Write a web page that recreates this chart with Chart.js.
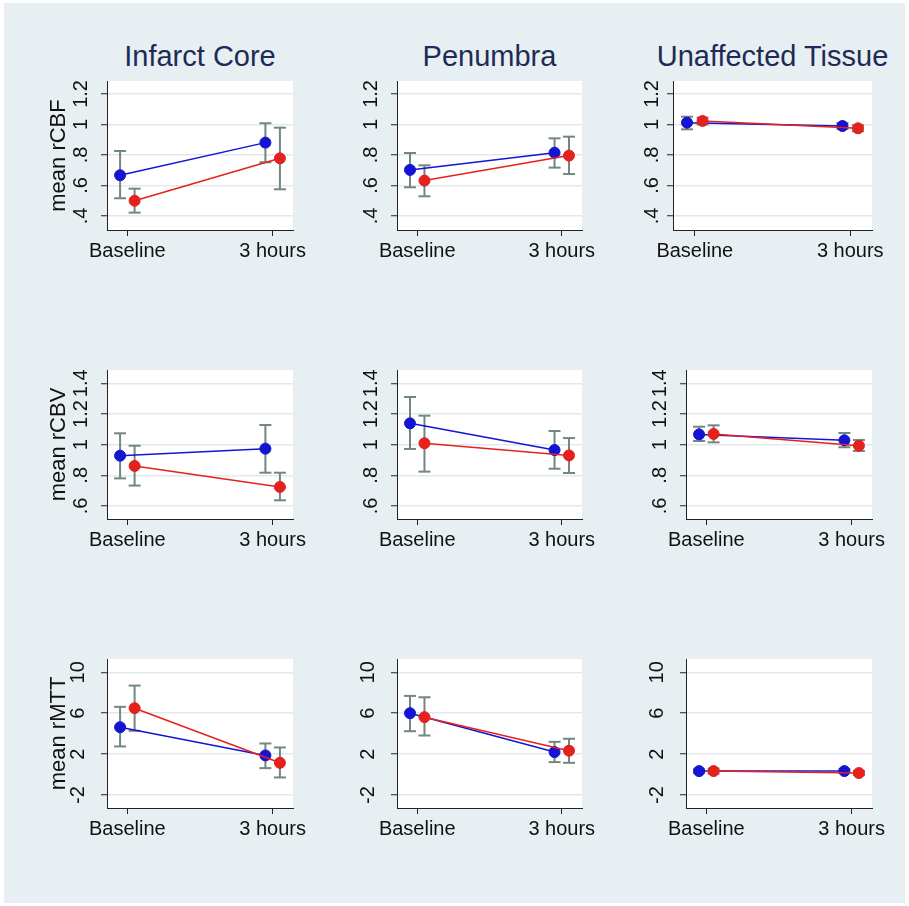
<!DOCTYPE html>
<html>
<head>
<meta charset="utf-8">
<script src="https://cdn.jsdelivr.net/npm/chart.js@4.4.1/dist/chart.umd.min.js"></script>
<style>
  html, body { margin: 0; padding: 0; background: #fff; }
  #frame { position: absolute; left: 4px; top: 3px; width: 901px; height: 900px; background: #e8eff3; }
  .title { position: absolute; top: 42px; font: 29px "Liberation Sans", Arial, sans-serif; line-height: 29px;
           color: #1d2b57; white-space: nowrap; transform: translateX(-50%); }
  canvas { position: absolute; }
</style>
</head>
<body>
<div id="frame"></div>
<script>
const FONT = '"Liberation Sans", Arial, sans-serif';

// text
const tissues = ["Infarct Core", "Penumbra", "Unaffected Tissue"];
const measures = ["mean rCBF", "mean rCBV", "mean rMTT"];
const timepoints = ["Baseline", "3 hours"];

// y axis per row (rCBF, rCBV, rMTT)
const yTicks = [[0.4, 0.6, 0.8, 1, 1.2], [0.6, 0.8, 1, 1.2, 1.4], [-2, 2, 6, 10]];
const yTickLabels = [[".4", ".6", ".8", "1", "1.2"], [".6", ".8", "1", "1.2", "1.4"], ["-2", "2", "6", "10"]];
const yMin = [0.308, 0.515, -3.27];
const yMax = [1.285, 1.487, 11.3];

// values: [measure row][tissue column][baseline, 3 hours]
const blueMean = [
  [[0.667, 0.881], [0.702, 0.815], [1.012, 0.990]],
  [[0.928, 0.974], [1.139, 0.965], [1.067, 1.028]],
  [[4.63, 1.87], [6.00, 2.20], [0.34, 0.34]],
];
const blueLow = [
  [[0.516, 0.752], [0.588, 0.717], [0.968, 0.970]],
  [[0.780, 0.817], [0.972, 0.843], [1.024, 0.983]],
  [[2.75, 0.63], [4.24, 1.22], [0.15, 0.15]],
];
const blueHigh = [
  [[0.826, 1.008], [0.813, 0.909], [1.051, 1.010]],
  [[1.074, 1.128], [1.311, 1.089], [1.117, 1.076]],
  [[6.62, 3.04], [7.69, 3.20], [0.53, 0.53]],
];
const redMean = [
  [[0.500, 0.778], [0.632, 0.796], [1.023, 0.975]],
  [[0.861, 0.724], [1.009, 0.930], [1.070, 0.993]],
  [[6.49, 1.15], [5.61, 2.33], [0.34, 0.15]],
];
const redLow = [
  [[0.422, 0.575], [0.529, 0.675], [1.000, 0.955]],
  [[0.733, 0.637], [0.824, 0.815], [1.015, 0.959]],
  [[4.28, -0.28], [3.82, 1.15], [0.10, -0.05]],
];
const redHigh = [
  [[0.579, 0.979], [0.732, 0.920], [1.045, 0.995]],
  [[0.993, 0.817], [1.189, 1.043], [1.126, 1.030]],
  [[8.70, 2.65], [7.56, 3.50], [0.58, 0.35]],
];

// layout: plot area [left, top, right, bottom] of each panel, row by row
const plotBoxes = [
  [107, 81, 293, 230], [397, 81, 582, 230], [673, 81, 872, 230],
  [107, 370, 293, 519], [397, 370, 582, 519], [686, 370, 872, 519],
  [107, 659, 293, 808], [397, 659, 582, 808], [686, 659, 872, 808],
];
const tickLabelGap = [26, 26, 21, 26, 26, 26, 29, 29, 29];

const BLUE = "#1414d2";
const RED = "#e4211d";
const CI = "#72877f";
const AXIS = "#222";

const plotBg = {
  id: "plotBg",
  beforeDraw(chart) {
    const { ctx, chartArea: a } = chart;
    ctx.save();
    ctx.fillStyle = "#fff";
    ctx.fillRect(a.left, a.top, a.right - a.left, a.bottom - a.top);
    ctx.restore();
  },
};

// rotated y tick labels, placed from the y scale
const yTickText = {
  id: "yTickText",
  afterDraw(chart, args, opts) {
    const s = chart.scales.y, ctx = chart.ctx;
    ctx.save();
    ctx.font = "20px " + FONT;
    ctx.fillStyle = "#111";
    ctx.textAlign = "center";
    ctx.textBaseline = "middle";
    s.ticks.forEach((t, k) => {
      ctx.save();
      ctx.translate(s.right - opts.gap, s.getPixelForValue(t.value));
      ctx.rotate(-Math.PI / 2);
      ctx.fillText(opts.labels[k], 0, 0);
      ctx.restore();
    });
    ctx.restore();
  },
};

function series(mean, color, dx, order) {
  return {
    data: mean.map((y, k) => ({ x: k + dx, y })),
    borderColor: color,
    backgroundColor: color,
    borderWidth: 1.5,
    pointRadius: 5.5,
    pointBackgroundColor: color,
    pointBorderColor: color,
    pointBorderWidth: 1,
    order,
  };
}

// error bars sit under the connected markers
function errorBar(x, lo, hi) {
  return {
    data: [{ x, y: lo }, { x, y: hi }],
    borderColor: CI,
    borderWidth: 2,
    pointStyle: "line",
    pointRadius: 6,
    pointBorderColor: CI,
    pointBorderWidth: 2,
    order: 5,
  };
}

tissues.forEach((name, col) => {
  const [l, , r] = plotBoxes[col];
  const d = document.createElement("div");
  d.className = "title";
  d.textContent = name;
  d.style.left = (l + r) / 2 + "px";
  document.body.appendChild(d);
});

plotBoxes.forEach(([l, t, r, b], i) => {
  const row = Math.floor(i / 3), col = i % 3;
  const cv = document.createElement("canvas");
  cv.width = r - l + 110;
  cv.height = b - t + 50;
  cv.style.left = l - 70 + "px";
  cv.style.top = t - 10 + "px";
  document.body.appendChild(cv);

  const datasets = [
    series(blueMean[row][col], BLUE, -0.05, 3),
    series(redMean[row][col], RED, 0.05, 2),
  ];
  [0, 1].forEach((k) => {
    datasets.push(errorBar(k - 0.05, blueLow[row][col][k], blueHigh[row][col][k]));
    datasets.push(errorBar(k + 0.05, redLow[row][col][k], redHigh[row][col][k]));
  });

  new Chart(cv, {
    type: "line",
    data: { datasets },
    plugins: [plotBg, yTickText],
    options: {
      responsive: false,
      animation: false,
      devicePixelRatio: 1,
      events: [],
      layout: { padding: { left: 0, top: 10, right: 40, bottom: 5 } },
      elements: { line: { tension: 0 } },
      plugins: {
        legend: { display: false },
        tooltip: { enabled: false },
        yTickText: { gap: tickLabelGap[i], labels: yTickLabels[row] },
      },
      scales: {
        x: {
          type: "linear",
          min: -0.14,
          max: 1.14,
          afterBuildTicks: (s) => { s.ticks = [{ value: 0 }, { value: 1 }]; },
          afterFit: (s) => { s.height = 35; },
          grid: { drawOnChartArea: false, tickLength: 6, tickColor: AXIS, tickWidth: 1 },
          border: { color: AXIS, width: 1 },
          ticks: {
            color: "#111",
            font: { family: FONT, size: 20 },
            padding: 3,
            maxRotation: 0,
            autoSkip: false,
            callback: (v) => (v === 0 ? timepoints[0] : v === 1 ? timepoints[1] : ""),
          },
        },
        y: {
          type: "linear",
          min: yMin[row],
          max: yMax[row],
          afterBuildTicks: (s) => { s.ticks = yTicks[row].map((v) => ({ value: v })); },
          afterFit: (s) => { s.width = 70; },
          grid: { color: "#e2e9ed", lineWidth: 1.5, tickLength: 6, tickColor: AXIS, tickWidth: 1 },
          border: { color: AXIS, width: 1 },
          ticks: { display: false },
          title: {
            display: col === 0,
            text: measures[row],
            color: "#111",
            font: { family: FONT, size: 22 },
            padding: { top: 9, bottom: 0 },
          },
        },
      },
    },
  });
});
</script>
</body>
</html>
